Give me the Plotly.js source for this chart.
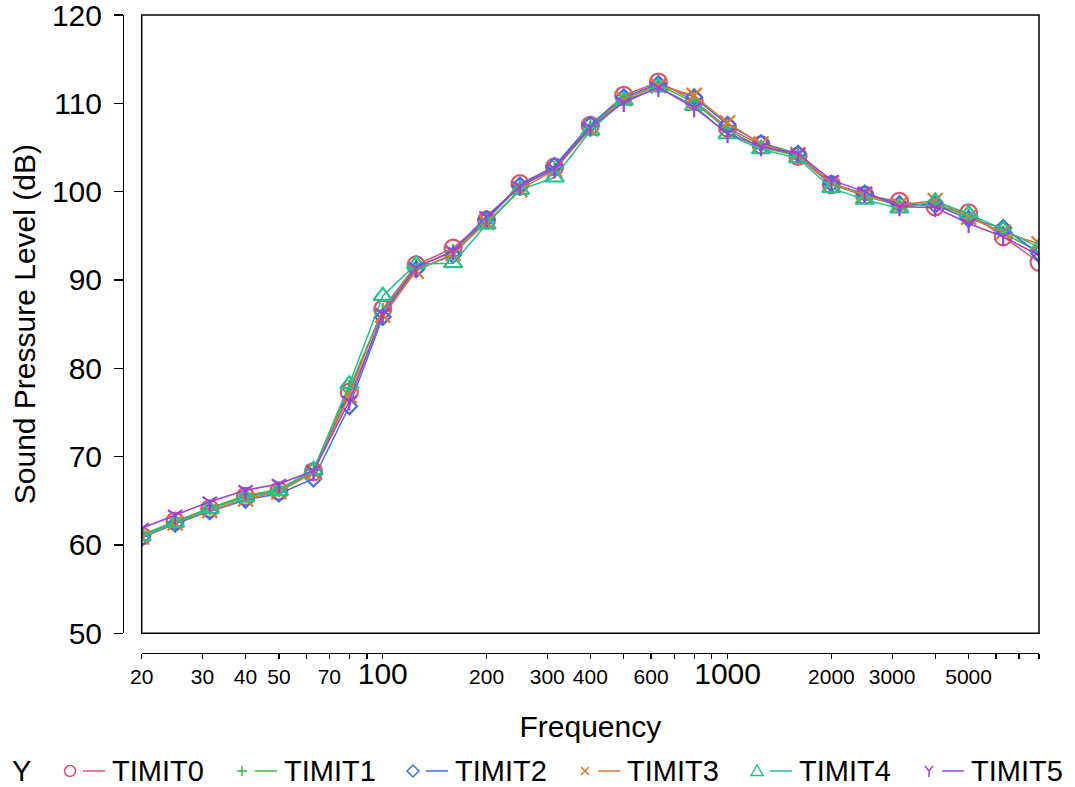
<!DOCTYPE html>
<html>
<head>
<meta charset="utf-8">
<script src="https://cdn.plot.ly/plotly-3.0.1.min.js"></script>
<style>html,body{margin:0;padding:0;background:#fff;}#chart{width:1075px;height:787px;}</style>
</head>
<body>
<div id="chart"></div>
<script>
const freq = [20,25,31.5,40,50,63,80,100,125,160,200,250,315,400,500,630,800,1000,1250,1600,2000,2500,3150,4000,5000,6300,8000];

const TIMIT0 = [61.0,62.7,64.1,65.5,66.1,68.3,77.3,86.7,91.7,93.6,96.8,100.9,102.8,107.5,110.9,112.4,110.3,107.2,105.3,104.0,100.8,99.6,98.9,98.3,97.6,94.9,92.0];
const TIMIT1 = [61.2,62.6,64.2,65.6,66.3,68.5,77.8,86.5,91.5,93.2,96.9,100.6,102.6,107.4,110.5,112.1,110.1,107.0,105.0,104.1,100.9,99.5,98.4,98.6,97.2,95.3,93.2];
const TIMIT2 = [60.8,62.4,63.8,65.1,65.8,67.5,75.7,85.8,91.2,92.8,96.9,100.7,102.9,107.6,110.7,112.2,110.7,107.6,105.5,104.3,100.9,99.8,98.6,98.5,96.9,95.9,93.0];
const TIMIT3 = [60.9,62.5,63.9,65.2,66.0,68.2,76.9,86.0,91.0,93.0,96.5,100.2,102.5,107.1,110.5,112.0,110.9,107.8,105.4,104.2,101.0,99.6,98.5,99.0,97.1,95.4,94.1];
const TIMIT4 = [61.0,62.5,64.1,65.4,66.1,68.5,78.2,88.2,91.8,91.9,96.3,100.2,101.6,106.9,110.3,111.8,109.7,106.5,104.8,103.8,100.4,99.1,98.1,98.9,97.5,95.7,93.7];
const TIMIT5 = [61.9,63.4,64.9,66.2,66.9,68.4,76.3,86.2,91.4,93.3,97.2,100.6,102.6,107.3,110.1,111.8,109.5,106.6,105.1,104.3,101.3,100.0,98.3,98.2,96.4,94.9,92.8];

const seriesNames = ["TIMIT0","TIMIT1","TIMIT2","TIMIT3","TIMIT4","TIMIT5"];
const seriesValues = [TIMIT0,TIMIT1,TIMIT2,TIMIT3,TIMIT4,TIMIT5];
const colors = ["#DF536B","#3FB54A","#3D6FE3","#DD7B2A","#26BF8E","#A33FD9"];
const symbols = ["circle-open","cross-thin-open","diamond-open","x-thin-open","triangle-up-open","y-down-open"];
const sizes = [17,11,12,15,16,12];

const xTickVals = [20,30,40,50,60,70,80,90,100,200,300,400,500,600,700,800,900,1000,2000,3000,4000,5000,6000,7000,8000];
const xTickText = ["20","30","40","50","","70","","","<span style='font-size:30px'>100</span>","200","300","400","","600","","","","<span style='font-size:30px'>1000</span>","2000","3000","","5000","","",""];
const yTickVals = [50,60,70,80,90,100,110,120];

const FONT = "Liberation Sans, Arial, Helvetica, sans-serif";

const traces = seriesNames.map((n,i)=>({
  type:"scatter", mode:"lines+markers", name:n,
  x:freq, y:seriesValues[i],
  line:{color:colors[i], width:1.5},
  marker:{symbol:symbols[i], size:sizes[i], color:colors[i], line:{color:colors[i], width:2.2}},
  showlegend:false, cliponaxis:true
}));

// geometry (pixels)
const W=1075, H=787, ML=123, MR=36, MT=15, MB=134;
const PW=W-ML-MR, PH=H-MT-MB;
const px = v => (v-ML)/PW;
const py = v => (H-MB-v)/PH;

const shapes = [
  {type:"rect", xref:"x domain", yref:"y domain", x0:0, x1:1, y0:0, y1:1, line:{color:"#000", width:1.5}, layer:"above"}
];
const LY = 771;
const annotations = [
  {xref:"paper", yref:"paper", x:px(10), y:py(LY), xanchor:"left", yanchor:"middle", text:"Y", showarrow:false, font:{family:FONT, size:29, color:"#000"}}
];
const legX = [70,242,413,585,757,929];
function markerPath(kind, cx, cy){
  const P = (x,y)=> px(x).toFixed(5)+","+py(y).toFixed(5);
  if(kind===1){ const a=5; return "M"+P(cx-a,cy)+"L"+P(cx+a,cy)+"M"+P(cx,cy-a)+"L"+P(cx,cy+a); }
  if(kind===2){ const a=6; return "M"+P(cx-a,cy)+"L"+P(cx,cy-a)+"L"+P(cx+a,cy)+"L"+P(cx,cy+a)+"Z"; }
  if(kind===3){ const a=4; return "M"+P(cx-a,cy-a)+"L"+P(cx+a,cy+a)+"M"+P(cx-a,cy+a)+"L"+P(cx+a,cy-a); }
  if(kind===4){ const a=6; return "M"+P(cx-a,cy+4.5)+"L"+P(cx,cy-6)+"L"+P(cx+a,cy+4.5)+"Z"; }
  if(kind===5){ return "M"+P(cx-4,cy-5)+"L"+P(cx,cy)+"L"+P(cx+4,cy-5)+"M"+P(cx,cy)+"L"+P(cx,cy+6); }
  return "";
}
seriesNames.forEach((n,i)=>{
  const cx = legX[i];
  if(i===0){
    shapes.push({type:"circle", xref:"paper", yref:"paper", x0:px(cx-5.5), x1:px(cx+5.5), y0:py(LY+5.5), y1:py(LY-5.5), line:{color:colors[i], width:1.5}});
  } else {
    shapes.push({type:"path", xref:"paper", yref:"paper", path:markerPath(i,cx,LY), line:{color:colors[i], width:1.5}});
  }
  shapes.push({type:"line", xref:"paper", yref:"paper", x0:px(cx+13), x1:px(cx+35), y0:py(LY), y1:py(LY), line:{color:colors[i], width:1.5}});
  annotations.push({xref:"paper", yref:"paper", x:px(cx+40), y:py(LY), xanchor:"left", yanchor:"middle", text:n, showarrow:false, font:{family:FONT, size:29, color:"#000"}});
});

const layout = {
  width:W, height:H,
  margin:{l:ML, r:MR, t:MT, b:MB, pad:0},
  paper_bgcolor:"#fff", plot_bgcolor:"#fff",
  font:{family:FONT, color:"#000"},
  showlegend:false,
  xaxis:{
    type:"log", range:[Math.log10(20), Math.log10(8000)],
    domain:[px(141.7), 1],
    anchor:"free", position:0,
    showline:true, linecolor:"#000", linewidth:1.2,
    ticks:"outside", ticklen:5, tickwidth:1.2, tickcolor:"#000",
    tickmode:"array", tickvals:xTickVals, ticktext:xTickText,
    tickfont:{family:FONT, size:21, color:"#000"},
    ticklabeloverflow:"allow",
    showgrid:false, zeroline:false,
    title:{text:"Frequency", font:{family:FONT, size:30, color:"#000"}, standoff:26},
    automargin:false
  },
  yaxis:{
    range:[50,120],
    domain:[py(633.3), 1],
    anchor:"free", position:0,
    showline:true, linecolor:"#000", linewidth:1.2,
    ticks:"outside", ticklen:9, tickwidth:1.2, tickcolor:"#000",
    tickmode:"array", tickvals:yTickVals,
    tickfont:{family:FONT, size:30, color:"#000"},
    ticklabelstandoff:6,
    ticklabeloverflow:"allow",
    showgrid:false, zeroline:false,
    title:{text:"Sound Pressure Level (dB)", font:{family:FONT, size:30, color:"#000"}, standoff:6},
    automargin:false
  },
  shapes:shapes,
  annotations:annotations
};

Plotly.newPlot("chart", traces, layout, {displayModeBar:false, staticPlot:true});
</script>
</body>
</html>
